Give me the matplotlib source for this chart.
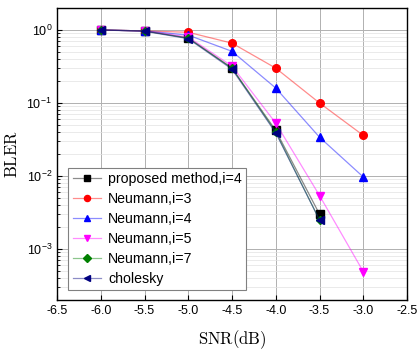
import numpy as np
import matplotlib.pyplot as plt
from matplotlib.colors import to_rgba
from matplotlib.ticker import LogLocator, MultipleLocator

plt.rcParams['mathtext.fontset'] = 'cm'

snr = [-6.0, -5.5, -5.0, -4.5, -4.0, -3.5, -3.0]

proposed = [1.0, 0.97, 0.78, 0.30, 0.042, 0.0030]
neu3 = [1.0, 0.97, 0.93, 0.66, 0.30, 0.10, 0.036]
neu4 = [1.0, 0.97, 0.85, 0.51, 0.16, 0.034, 0.0097]
neu5 = [1.0, 0.97, 0.80, 0.32, 0.053, 0.0054, 0.00049]
neu7 = [1.0, 0.97, 0.77, 0.30, 0.040, 0.0025]
chol = [1.0, 0.96, 0.76, 0.29, 0.039, 0.0025]

series = [
    (proposed, 'proposed method,i=4', 'k', 's'),
    (neu3, 'Neumann,i=3', 'red', 'o'),
    (neu4, 'Neumann,i=4', 'blue', '^'),
    (neu5, 'Neumann,i=5', 'magenta', 'v'),
    (neu7, 'Neumann,i=7', 'green', 'D'),
    (chol, 'cholesky', 'navy', '<'),
]

fig = plt.figure(figsize=(4.17, 3.5), dpi=100)
ax = fig.add_axes([57/417, 50/350, 350/417, 292/350])

for y, lab, c, m in series:
    ms = 4.5 if m == 'D' else 5.5
    ax.plot(snr[:len(y)], y, color=to_rgba(c, 0.45), lw=0.9, marker=m, ms=ms,
            mfc=c, mec=c, label=lab)

ax.set_yscale('log')
ax.set_xlim(-6.5, -2.5)
ax.set_ylim(2e-4, 2)
ax.xaxis.set_major_locator(MultipleLocator(0.5))
ax.yaxis.set_major_locator(LogLocator(base=10, numticks=10))
ax.yaxis.set_minor_locator(LogLocator(base=10, subs=np.arange(2, 10), numticks=10))

ax.grid(True, which='major', color='#b0b0b0', lw=0.7)
ax.grid(True, which='minor', axis='y', color='#e2e2e2', lw=0.5)
ax.set_axisbelow(True)

ax.tick_params(which='both', direction='in', labelsize=9)
for lbl in ax.get_xticklabels() + ax.get_yticklabels():
    lbl.set_family('Liberation Sans')
ax.xaxis.set_major_formatter(plt.FuncFormatter(lambda v, p: f'{v:.1f}'))
for s in ax.spines.values():
    s.set_linewidth(1.0)

ax.set_xlabel(r'$\mathrm{SNR(dB)}$', fontsize=12, labelpad=8)
ax.set_ylabel(r'$\mathrm{BLER}$', fontsize=12, labelpad=4)

leg = ax.legend(loc='lower left', bbox_to_anchor=(0.012, 0.01),
                prop={'family': 'Liberation Sans', 'size': 10.2},
                fancybox=False, edgecolor='#808080', framealpha=1,
                labelspacing=0.42, handlelength=2.0, handletextpad=0.5,
                borderpad=0.3, markerscale=0.8)
leg.get_frame().set_linewidth(0.8)

fig.savefig('out.png', dpi=100)
